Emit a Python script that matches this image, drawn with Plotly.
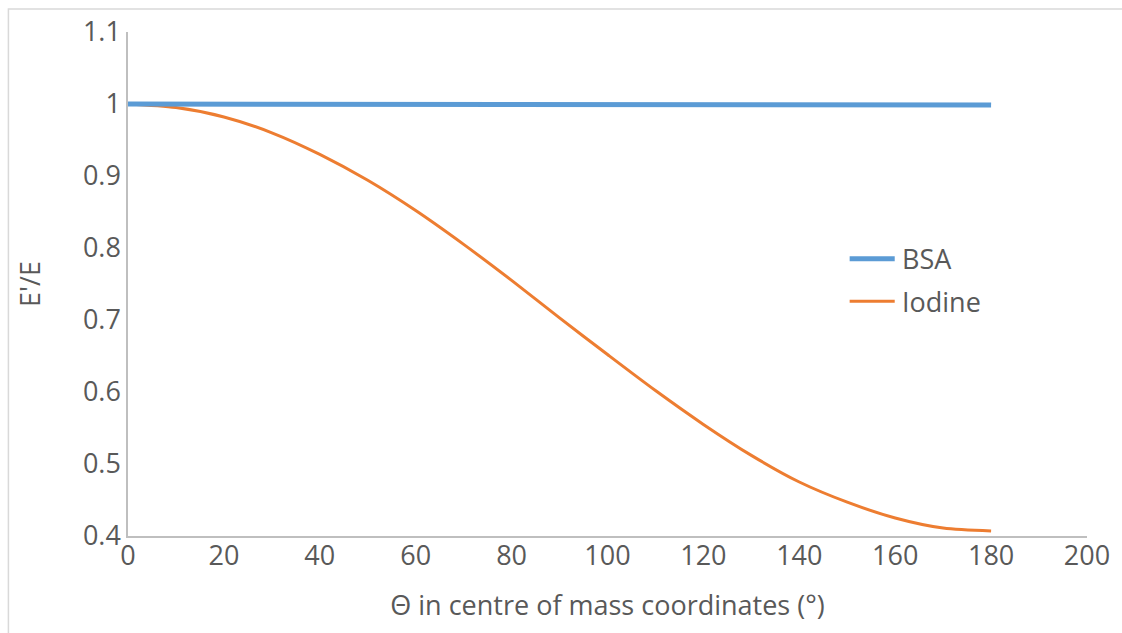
import plotly.graph_objects as go

theta = [0, 10, 20, 30, 40, 50, 60, 70, 80, 90, 100, 110, 120, 130, 140, 150, 160, 170, 180]
bsa = [1.0, 0.99999, 0.9999, 0.9998, 0.9997, 0.9996, 0.9995, 0.9994, 0.9993, 0.9992,
       0.9991, 0.999, 0.9989, 0.9988, 0.99875, 0.9987, 0.99865, 0.9986, 0.9986]
iodine = [1.0, 0.995, 0.982, 0.960, 0.930, 0.894, 0.852, 0.805, 0.755, 0.703,
          0.652, 0.602, 0.555, 0.512, 0.475, 0.447, 0.425, 0.411, 0.407]

series_names = ["BSA", "Iodine"]
x_ticks = [0, 20, 40, 60, 80, 100, 120, 140, 160, 180, 200]
y_ticks = [0.4, 0.5, 0.6, 0.7, 0.8, 0.9, 1.0, 1.1]
y_tick_labels = ["0.4", "0.5", "0.6", "0.7", "0.8", "0.9", "1", "1.1"]

BLUE = "#5B9BD5"
ORANGE = "#ED7D31"
FONT = "Open Sans"
GREY_TXT = "#595959"
FS = 27

fig = go.Figure()
fig.add_trace(go.Scatter(x=theta, y=iodine, mode="lines", name=series_names[1],
                         line=dict(color=ORANGE, width=3, shape="spline", smoothing=0.8),
                         showlegend=False))
fig.add_trace(go.Scatter(x=theta, y=bsa, mode="lines", name=series_names[0],
                         line=dict(color=BLUE, width=5), showlegend=False))

# manual legend
legend_rows = [(series_names[0], BLUE, 5, 0.785), (series_names[1], ORANGE, 3, 0.726)]
for name, col, w, yy in legend_rows:
    fig.add_shape(type="line", xref="x", yref="y", x0=150.5, x1=159.9, y0=yy, y1=yy,
                  line=dict(color=col, width=w))
    fig.add_annotation(x=161.0, y=yy, xref="x", yref="y", text=name, showarrow=False,
                       xanchor="left", yanchor="middle",
                       font=dict(family=FONT, size=FS, color=GREY_TXT))

# chart area border
fig.add_shape(type="rect", xref="paper", yref="paper", x0=-0.1247, x1=1.04, y0=-0.22, y1=1.0454,
              line=dict(color="#D9D9D9", width=1.5), layer="below")

fig.update_layout(
    width=1122, height=633,
    margin=dict(l=128, r=31, t=29, b=97),
    plot_bgcolor="white", paper_bgcolor="white",
    font=dict(family=FONT, size=FS, color=GREY_TXT),
    xaxis=dict(range=[0, 200], tickvals=x_ticks, showgrid=False, zeroline=False,
               showline=True, linecolor="#BFBFBF", linewidth=1.5, ticks="",
               ticklen=0, ticklabelstandoff=-5, tickfont=dict(size=FS, color=GREY_TXT),
               title=dict(text="Θ in centre of mass coordinates (°)", standoff=24,
                          font=dict(size=FS, color=GREY_TXT))),
    yaxis=dict(range=[0.4, 1.1], tickvals=y_ticks, ticktext=y_tick_labels,
               showgrid=False, zeroline=False, showline=True, linecolor="#BFBFBF",
               linewidth=1.5, ticks="", tickfont=dict(size=FS, color=GREY_TXT),
               title=dict(text="E'/E", standoff=34, font=dict(size=FS, color=GREY_TXT))),
)

fig.write_html("out.html")
